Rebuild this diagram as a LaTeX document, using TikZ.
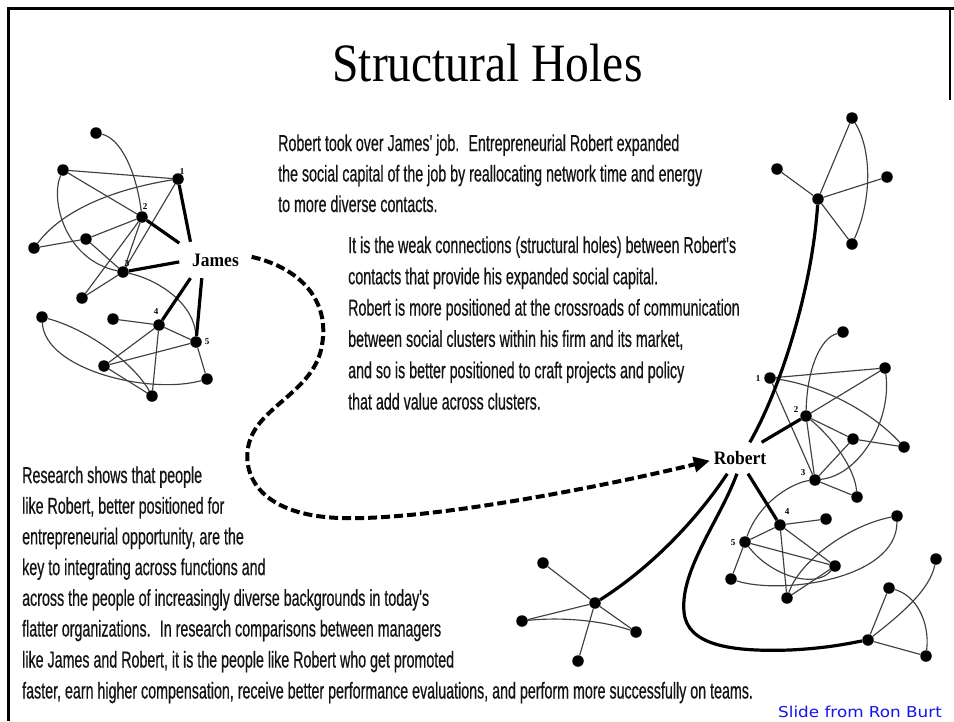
\documentclass[tikz,border=0pt]{standalone}
\usepackage{fontspec}
\setmainfont{Liberation Serif}
\newfontfamily\bodyfont[FakeStretch=0.62,FakeBold=0.5]{Liberation Sans}
\newfontfamily\titlefont[FakeStretch=0.88]{Liberation Serif}
\newfontfamily\namefont[FakeStretch=0.92]{Liberation Serif}
\newfontfamily\creditfont[FakeStretch=1.12]{DejaVu Sans}
\usetikzlibrary{arrows.meta,backgrounds}
\definecolor{edgegray}{gray}{0.25}
\definecolor{txtcol}{gray}{0.08}
\definecolor{creditblue}{RGB}{20,20,235}
\begin{document}
\begin{tikzpicture}[x=1pt,y=-1pt,
  blob/.style={circle,fill=black,inner sep=0pt,minimum size=11.5pt},
  edgeline/.style={draw=edgegray,line width=1.15pt},
  strongline/.style={draw=black,line width=3.2pt},
  dashconn/.style={draw=black,line width=4pt,dash pattern=on 9pt off 4pt,-{Triangle[length=16pt,width=15pt]}},
  txt/.style={anchor=base west,inner sep=0pt,text=txtcol,font=\bodyfont\fontsize{23}{28}\selectfont},
  num/.style={inner sep=0pt,font=\bfseries\fontsize{9}{9}\selectfont},
  who/.style={rectangle,inner sep=0pt,font=\namefont\bfseries\fontsize{19}{19}\selectfont},
]
\useasboundingbox (0,0) rectangle (954,721);

% frame
\draw[line width=3pt] (8,721) -- (8,8) -- (954,8);
\draw[line width=2pt] (950,8) -- (950,100);

% title
\node[anchor=base,inner sep=0pt,font=\titlefont\fontsize{54}{54}\selectfont] (title) at (487.5,81) {Structural Holes};

% ---------- James network ----------
\node[blob] (jA) at (96,133) {};
\node[blob] (jB) at (63,170) {};
\node[blob] (j1) at (178,179) {};
\node[blob] (j2) at (142,217) {};
\node[blob] (jC) at (86,239) {};
\node[blob] (jD) at (34,248) {};
\node[blob] (j3) at (123,272) {};
\node[blob] (jE) at (82,298) {};
\node[blob] (jF) at (42,317) {};
\node[blob] (jG) at (113,319) {};
\node[blob] (j4) at (159,325) {};
\node[blob] (j5) at (196,342) {};
\node[blob] (jH) at (104,366) {};
\node[blob] (jI) at (207,379) {};
\node[blob] (jJ) at (152,396) {};
\node[num] (jl1) at (182,172) {1};
\node[num] (jl2) at (145,207) {2};
\node[num] (jl3) at (127,264) {3};
\node[num] (jl4) at (156,312) {4};
\node[num] (jl5) at (207,342) {5};
\node[who,minimum width=72pt,minimum height=36pt] (James) at (215.5,260) {James};

% ---------- Robert network ----------
\node[blob] (T) at (818,199) {};
\node[blob] (T1) at (852,118) {};
\node[blob] (T2) at (777,169) {};
\node[blob] (T3) at (887,177) {};
\node[blob] (T4) at (852,244) {};

\node[blob] (r1) at (770,378) {};
\node[blob] (rTop) at (843,332) {};
\node[blob] (rTR) at (885,368) {};
\node[blob] (r2) at (806,416) {};
\node[blob] (rM) at (853,439) {};
\node[blob] (rR) at (904,447) {};
\node[blob] (r3) at (815,480) {};
\node[blob] (rB) at (857,497) {};
\node[blob] (r4) at (780,525) {};
\node[blob] (r5) at (745,542) {};
\node[blob] (rA) at (826,519) {};
\node[blob] (rT2) at (897,516) {};
\node[blob] (rMid) at (835,566) {};
\node[blob] (rL) at (731,579) {};
\node[blob] (rBot) at (787,598) {};
\node[num] (rl1) at (758,379) {1};
\node[num] (rl2) at (796,410) {2};
\node[num] (rl3) at (803,473) {3};
\node[num] (rl4) at (787,512) {4};
\node[num] (rl5) at (733,543) {5};

\node[blob] (bh) at (868,640) {};
\node[blob] (bA) at (889,588) {};
\node[blob] (bB) at (936,559) {};
\node[blob] (bC) at (926,656) {};

\node[blob] (S) at (595,603) {};
\node[blob] (S1) at (543,563) {};
\node[blob] (S2) at (522,621) {};
\node[blob] (S3) at (636,632) {};
\node[blob] (S4) at (578,661) {};

\node[who,minimum width=60pt,minimum height=31pt] (Robert) at (740,458) {Robert};

% ---------- texts ----------
\node[txt] (a1) at (278,151) {Robert took over James' job.~ Entrepreneurial Robert expanded};
\node[txt] (a2) at (278,181.5) {the social capital of the job by reallocating network time and energy};
\node[txt] (a3) at (278,212) {to more diverse contacts.};

\node[txt] (b1) at (348,253) {It is the weak connections (structural holes) between Robert's};
\node[txt] (b2) at (348,284.3) {contacts that provide his expanded social capital.};
\node[txt] (b3) at (348,315.6) {Robert is more positioned at the crossroads of communication};
\node[txt] (b4) at (348,346.9) {between social clusters within his firm and its market,};
\node[txt] (b5) at (348,378.2) {and so is better positioned to craft projects and policy};
\node[txt] (b6) at (348,409.5) {that add value across clusters.};

\node[txt] (c1) at (22,483) {Research shows that people};
\node[txt] (c2) at (22,513.7) {like Robert, better positioned for};
\node[txt] (c3) at (22,544.4) {entrepreneurial opportunity, are the};
\node[txt] (c4) at (22,575.1) {key to integrating across functions and};
\node[txt] (c5) at (22,605.8) {across the people of increasingly diverse backgrounds in today's};
\node[txt] (c6) at (22,636.5) {flatter organizations.~ In research comparisons between managers};
\node[txt] (c7) at (22,667.5) {like James and Robert, it is the people like Robert who get promoted};
\node[txt] (c8) at (22,698.5) {faster, earn higher compensation, receive better performance evaluations, and perform more successfully on teams.};

\node[anchor=base west,inner sep=0pt,text=creditblue,font=\creditfont\fontsize{15}{15}\selectfont] (credit) at (778,717) {Slide from Ron Burt};

% ---------- connectors ----------
\begin{pgfonlayer}{background}
\fill[white] (0,0) rectangle (954,721);
% James thin
\draw[edgeline] (jA) .. controls (120,138) and (136,170) .. (j2);
\draw[edgeline] (jB) -- (j1);
\draw[edgeline] (jB) -- (j2);
\draw[edgeline] (jB) .. controls (50,200) and (65,260) .. (j3);
\draw[edgeline] (j1) .. controls (140,185) and (70,200) .. (jD);
\draw[edgeline] (jD) -- (jC);
\draw[edgeline] (jC) -- (j2);
\draw[edgeline] (jC) -- (j3);
\draw[edgeline] (j1) -- (j3);
\draw[edgeline] (j2) -- (j3);
\draw[edgeline] (j2) -- (jE);
\draw[edgeline] (jE) -- (j3);
\draw[edgeline] (j3) .. controls (160,280) and (195,305) .. (j5);
\draw[edgeline] (jF) .. controls (90,330) and (135,365) .. (jJ);
\draw[edgeline] (jF) .. controls (45,370) and (150,395) .. (jI);
\draw[edgeline] (jG) -- (j4);
\draw[edgeline] (j4) -- (j5);
\draw[edgeline] (j4) -- (jH);
\draw[edgeline] (j4) -- (jJ);
\draw[edgeline] (j5) -- (jH);
\draw[edgeline] (j5) -- (jI);
\draw[edgeline] (jH) -- (jJ);
% James thick
\draw[strongline] (James.144) -- (j1);
\draw[strongline] (James.155) -- (j2);
\draw[strongline] (James.183) -- (j3);
\draw[strongline] (James.216) -- (j4);
\draw[strongline] (James.233) -- (j5);

% Robert thin
\draw[edgeline] (T) -- (T1);
\draw[edgeline] (T) -- (T2);
\draw[edgeline] (T) -- (T3);
\draw[edgeline] (T) -- (T4);
\draw[edgeline] (T1) .. controls (872,150) and (872,200) .. (T4);
\draw[edgeline] (r1) -- (rTR);
\draw[edgeline] (r1) .. controls (820,385) and (870,410) .. (rR);
\draw[edgeline] (r1) -- (r3);
\draw[edgeline] (rTop) .. controls (820,338) and (807,370) .. (r2);
\draw[edgeline] (rTR) -- (r2);
\draw[edgeline] (rTR) .. controls (892,420) and (860,475) .. (r3);
\draw[edgeline] (r2) -- (rM);
\draw[edgeline] (rM) -- (rR);
\draw[edgeline] (rM) -- (r3);
\draw[edgeline] (r2) -- (r3);
\draw[edgeline] (r2) .. controls (835,440) and (855,470) .. (rB);
\draw[edgeline] (r3) -- (rB);
\draw[edgeline] (r3) .. controls (795,482) and (760,500) .. (r5);
\draw[edgeline] (r4) -- (rA);
\draw[edgeline] (r4) -- (r5);
\draw[edgeline] (r4) -- (rMid);
\draw[edgeline] (r4) -- (rBot);
\draw[edgeline] (r5) -- (rMid);
\draw[edgeline] (r5) -- (rL);
\draw[edgeline] (rMid) -- (rBot);
\draw[edgeline] (rT2) .. controls (850,525) and (800,560) .. (rBot);
\draw[edgeline] (rT2) .. controls (897,580) and (780,595) .. (rL);
\draw[edgeline] (r5) .. controls (770,575) and (815,590) .. (rMid);
\draw[edgeline] (bh) -- (bA);
\draw[edgeline] (bh) -- (bC);
\draw[edgeline] (bh) .. controls (900,615) and (930,590) .. (bB);
\draw[edgeline] (bA) .. controls (915,595) and (930,620) .. (bC);
\draw[edgeline] (S) -- (S1);
\draw[edgeline] (S) -- (S2);
\draw[edgeline] (S) -- (S3);
\draw[edgeline] (S) -- (S4);
\draw[edgeline] (S2) .. controls (560,617) and (600,620) .. (S3);

% Robert thick
\draw[strongline] (Robert.58) .. controls (780,390) and (812,290) .. (T);
\draw[strongline] (Robert.36) -- (r2);
\draw[strongline] (Robert.297) -- (r4);
\draw[strongline] (Robert.231) .. controls (700,515) and (655,565) .. (S);
\draw[strongline] (Robert.259) .. controls (720,520) and (680,570) .. (684,612)
   .. controls (687,645) and (730,652) .. (790,650)
   .. controls (830,648) and (850,643) .. (bh);

% dashed move
\draw[dashconn] (James.5) .. controls (300,268) and (330,300) .. (322,345)
   .. controls (315,390) and (262,405) .. (250,440)
   .. controls (240,470) and (255,515) .. (340,518)
   .. controls (430,521) and (610,485) .. (Robert.185);
\end{pgfonlayer}
\end{tikzpicture}
\end{document}
